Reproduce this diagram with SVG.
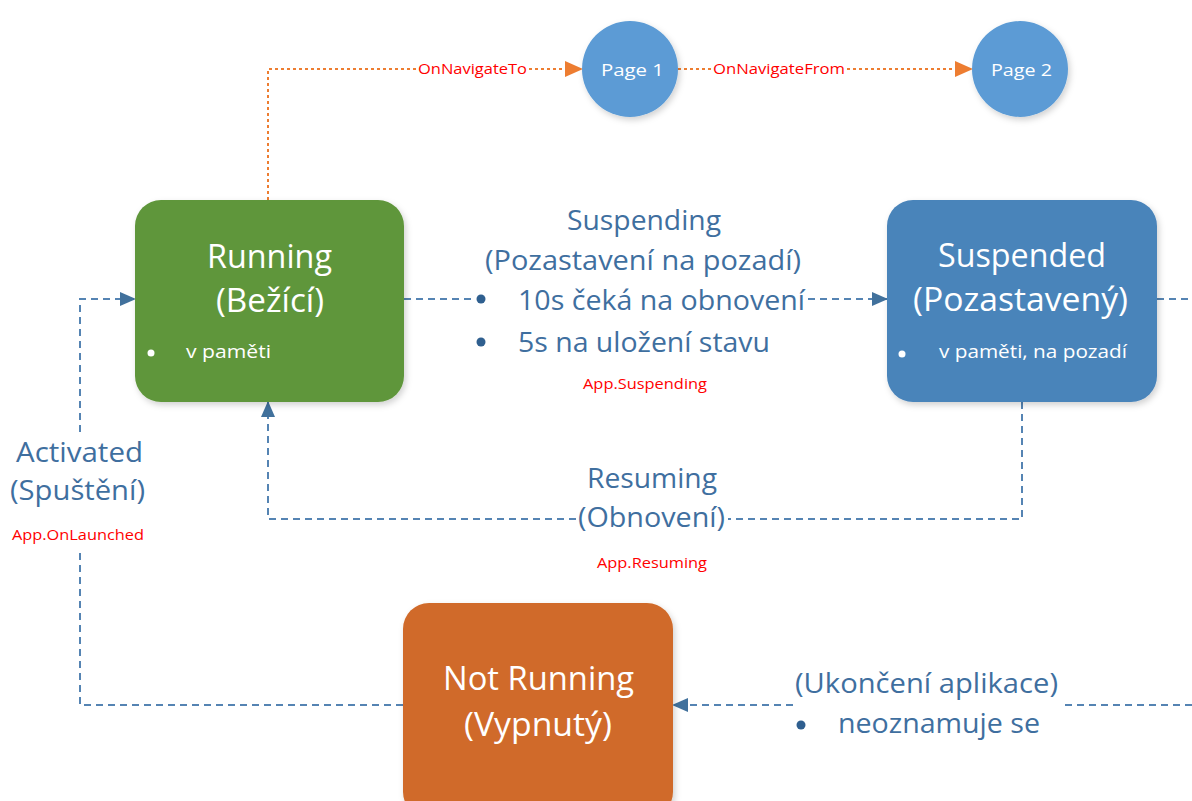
<svg xmlns="http://www.w3.org/2000/svg" width="1192" height="801" viewBox="0 0 1192 801">
  <defs>
    <style>
      .t { font-family: "Open Sans", "Liberation Sans", sans-serif; }
      .title { font-size: 33px; fill: #ffffff; }
      .sub { font-size: 18px; fill: #ffffff; }
      .lbl { font-size: 28px; fill: #3f6f9f; }
      .ev { font-size: 14px; fill: #ff0000; }
      .pg { font-size: 17px; fill: #ffffff; }
      .flow { fill: none; stroke: #5584b3; stroke-width: 2; stroke-dasharray: 7 5; }
      .nav { fill: none; stroke: #ed7d31; stroke-width: 2; stroke-dasharray: 3 3; }
    </style>
    <marker id="ab" markerUnits="userSpaceOnUse" markerWidth="16" markerHeight="14" refX="15" refY="7" orient="auto">
      <path d="M0,0 L16,7 L0,14 Z" fill="#41719c"/>
    </marker>
    <marker id="ao" markerUnits="userSpaceOnUse" markerWidth="18" markerHeight="16" refX="17" refY="8" orient="auto">
      <path d="M0,0 L18,8 L0,16 Z" fill="#ed7d31"/>
    </marker>
    <filter id="sh" x="-10%" y="-10%" width="125%" height="125%">
      <feDropShadow dx="2" dy="3" stdDeviation="3" flood-color="#000" flood-opacity="0.18"/>
    </filter>
  </defs>

  <rect width="1192" height="801" fill="#ffffff"/>

  <!-- connectors -->
  <g id="connectors">
    <!-- navigation (orange, dotted) -->
    <path class="nav" d="M268,200 V69 H416"/>
    <path class="nav" d="M529,69 H582" marker-end="url(#ao)"/>
    <path class="nav" d="M678,69 H711"/>
    <path class="nav" d="M847,69 H972" marker-end="url(#ao)"/>
    <!-- Running -> Suspended -->
    <path class="flow" d="M404,299 H474"/>
    <path class="flow" d="M808,299 H887" marker-end="url(#ab)"/>
    <!-- Suspended -> off right -->
    <path class="flow" d="M1157,299 H1192"/>
    <!-- Suspended -> Running (Resuming) -->
    <path class="flow" d="M576,519 H268 V402" marker-end="url(#ab)"/>
    <path class="flow" d="M1022,402 V519 H728"/>
    <!-- Not Running -> Running (Activated) -->
    <path class="flow" d="M80,432 V299 H135" marker-end="url(#ab)"/>
    <path class="flow" d="M403,705 H80 V552"/>
    <!-- Termination -> Not Running -->
    <path class="flow" d="M1192,705 H1060"/>
    <path class="flow" d="M793,705 H673" marker-end="url(#ab)"/>
  </g>

  <!-- edge labels -->
  <g id="label-nav">
    <text class="t ev" x="418" y="74" textLength="109" lengthAdjust="spacingAndGlyphs">OnNavigateTo</text>
    <text class="t ev" x="713" y="74" textLength="132" lengthAdjust="spacingAndGlyphs">OnNavigateFrom</text>
  </g>
  <g id="label-suspending">
    <text class="t lbl" x="567" y="230" textLength="154" lengthAdjust="spacingAndGlyphs">Suspending</text>
    <text class="t lbl" x="485" y="270" textLength="316" lengthAdjust="spacingAndGlyphs">(Pozastavení na pozadí)</text>
    <circle cx="481" cy="299" r="4.5" fill="#2f5f8f"/>
    <text class="t lbl" x="518" y="310" textLength="287" lengthAdjust="spacingAndGlyphs">10s čeká na obnovení</text>
    <circle cx="481" cy="342" r="4.5" fill="#2f5f8f"/>
    <text class="t lbl" x="518" y="352" textLength="252" lengthAdjust="spacingAndGlyphs">5s na uložení stavu</text>
    <text class="t ev" x="583" y="389" textLength="124" lengthAdjust="spacingAndGlyphs">App.Suspending</text>
  </g>
  <g id="label-resuming">
    <text class="t lbl" x="587" y="488" textLength="130" lengthAdjust="spacingAndGlyphs">Resuming</text>
    <text class="t lbl" x="578" y="527" textLength="147" lengthAdjust="spacingAndGlyphs">(Obnovení)</text>
    <text class="t ev" x="597" y="568" textLength="110" lengthAdjust="spacingAndGlyphs">App.Resuming</text>
  </g>
  <g id="label-activated">
    <text class="t lbl" x="16" y="462" textLength="127" lengthAdjust="spacingAndGlyphs">Activated</text>
    <text class="t lbl" x="10" y="500" textLength="135" lengthAdjust="spacingAndGlyphs">(Spuštění)</text>
    <text class="t ev" x="12" y="540" textLength="132" lengthAdjust="spacingAndGlyphs">App.OnLaunched</text>
  </g>
  <g id="label-terminate">
    <text class="t lbl" x="795" y="693" textLength="263" lengthAdjust="spacingAndGlyphs">(Ukončení aplikace)</text>
    <circle cx="801" cy="725" r="4.5" fill="#2f5f8f"/>
    <text class="t lbl" x="838" y="733" textLength="202" lengthAdjust="spacingAndGlyphs">neoznamuje se</text>
  </g>

  <!-- nodes -->
  <g id="page1">
    <circle cx="630" cy="69" r="48" fill="#5b9bd5" filter="url(#sh)"/>
    <text class="t pg" x="601" y="76" textLength="63" lengthAdjust="spacingAndGlyphs">Page 1</text>
  </g>
  <g id="page2">
    <circle cx="1020" cy="69" r="48" fill="#5b9bd5" filter="url(#sh)"/>
    <text class="t pg" x="991" y="76" textLength="61" lengthAdjust="spacingAndGlyphs">Page 2</text>
  </g>
  <g id="running">
    <rect x="135" y="200" width="269" height="202" rx="26" fill="#5f963b" filter="url(#sh)"/>
    <text class="t title" x="207" y="268" textLength="125" lengthAdjust="spacingAndGlyphs">Running</text>
    <text class="t title" x="216" y="312" textLength="108" lengthAdjust="spacingAndGlyphs">(Bežící)</text>
    <circle cx="151" cy="353" r="3.5" fill="#ffffff"/>
    <text class="t sub" x="186" y="358" textLength="85" lengthAdjust="spacingAndGlyphs">v paměti</text>
  </g>
  <g id="suspended">
    <rect x="887" y="200" width="270" height="202" rx="26" fill="#4a84ba" filter="url(#sh)"/>
    <text class="t title" x="938" y="267" textLength="168" lengthAdjust="spacingAndGlyphs">Suspended</text>
    <text class="t title" x="913" y="311" textLength="215" lengthAdjust="spacingAndGlyphs">(Pozastavený)</text>
    <circle cx="902" cy="354" r="3.5" fill="#ffffff"/>
    <text class="t sub" x="939" y="358" textLength="188" lengthAdjust="spacingAndGlyphs">v paměti, na pozadí</text>
  </g>
  <g id="not-running">
    <rect x="403" y="603" width="270" height="215" rx="26" fill="#d06b2a" filter="url(#sh)"/>
    <text class="t title" x="443" y="690" textLength="191" lengthAdjust="spacingAndGlyphs">Not Running</text>
    <text class="t title" x="464" y="736" textLength="148" lengthAdjust="spacingAndGlyphs">(Vypnutý)</text>
  </g>
</svg>
